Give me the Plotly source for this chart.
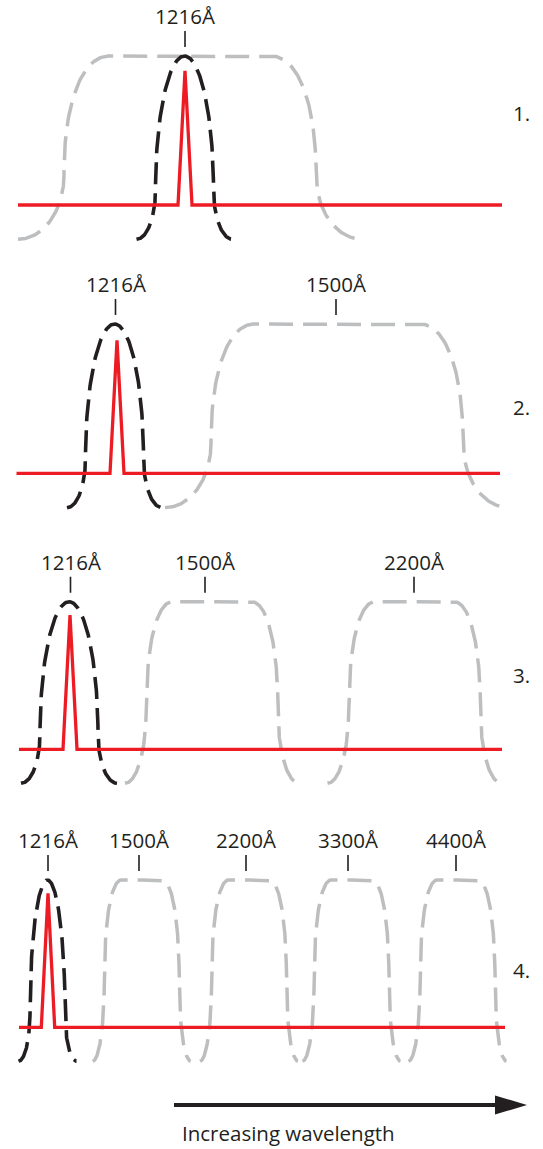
import numpy as np
import plotly.graph_objects as go

# ---------------- data ----------------
panel_names = ["1.", "2.", "3.", "4."]
label_text = [["1216Å"],
              ["1216Å", "1500Å"],
              ["1216Å", "1500Å", "2200Å"],
              ["1216Å", "1500Å", "2200Å", "3300Å", "4400Å"]]
label_pos = [[185], [115.5, 336], [70.5, 205, 414], [48, 139, 246, 348, 456]]

# red emission line (Lyman alpha) on a flat continuum
line_center = [185, 117, 70, 48]
line_peak = [0.90, 0.89, 0.91, 0.91]
line_halfbase = [7, 7, 7, 6.7]
continuum_start = [18, 16.5, 19, 19]
continuum_end = [502, 500, 502, 505]

# narrow Lyα filter (black dashed)
ly_center = [184.5, 114.5, 69, 47.5]
ly_side = [29, 29, 29, 17.5]
ly_foot = [48, 47.5, 48, 29]

# broad-band filters (grey dashed)
bb_center = [[190], [337], [212, 414.5], [141.7, 249, 351.5, 457.5]]
bb_top = [80, 82, 39, 20]
bb_side = [126, 126, 66, 37.5]
bb_foot = [172, 172, 87, 49]
bb_knee = [0.2, 0.2, 0.25, 0.3]

# ---------------- layout constants ----------------
W, H = 543, 1149
RED, BLACK, GREY = "#ED1C24", "#231F20", "#BCBEC0"
FONT = "Open Sans"
base_px = [205, 473.3, 749.3, 1027.3]
unit_px = [149, 149.3, 147.6, 147.3]
number_px = [113, 407, 675, 970]
YLO, YHI = -0.4, 1.35
Y_END = -0.23


def hat(center, d_top, d_side, d_foot, y_knee, p_top=2.2, p_foot=2.0, n=60):
    t1 = np.linspace(np.pi / 2, 0, n)
    a, b = d_side - d_top, 1.0 - y_knee
    d1 = d_top + a * np.abs(np.cos(t1)) ** (2 / p_top)
    y1 = y_knee + b * np.abs(np.sin(t1)) ** (2 / p_top)
    t2 = np.linspace(0, np.pi / 2, n)[1:]
    a2, b2 = d_foot - d_side, y_knee - Y_END
    d2 = d_foot - a2 * np.abs(np.cos(t2)) ** (2 / p_foot)
    y2 = y_knee - b2 * np.abs(np.sin(t2)) ** (2 / p_foot)
    d = np.concatenate([[0.0], d1, d2])
    y = np.concatenate([[1.0], y1, y2])
    x = np.concatenate([center - d[::-1], center + d[1:]])
    yy = np.concatenate([y[::-1], y[1:]])
    return x, yy


fig = go.Figure()
annotations = []
shapes = []
layout_axes = {}

for i in range(4):
    ax = "y" if i == 0 else f"y{i + 1}"
    axname = "yaxis" if i == 0 else f"yaxis{i + 1}"
    B, S = base_px[i], unit_px[i]
    bottom_px = B - YLO * S
    top_px = B - YHI * S
    layout_axes[axname] = dict(domain=[1 - bottom_px / H, 1 - top_px / H],
                               range=[YLO, YHI], visible=False, fixedrange=True,
                               anchor="x")

    # grey broad-band filters
    for c in bb_center[i]:
        x, y = hat(c, bb_top[i], bb_side[i], bb_foot[i], bb_knee[i])
        fig.add_trace(go.Scatter(x=x, y=y, mode="lines", yaxis=ax, hoverinfo="skip",
                                 line=dict(color=GREY, width=3.5, dash="24px,10px"),
                                 showlegend=False))
    # black Lyα filter
    x, y = hat(ly_center[i], 0.0, ly_side[i], ly_foot[i], 0.1, p_top=2.0)
    fig.add_trace(go.Scatter(x=x, y=y, mode="lines", yaxis=ax, hoverinfo="skip",
                             line=dict(color=BLACK, width=3.6, dash="22px,9px"),
                             showlegend=False))
    # red spectrum
    lc, hw = line_center[i], line_halfbase[i]
    rx = [continuum_start[i], lc - hw, lc, lc + hw, continuum_end[i]]
    ry = [0, 0, line_peak[i], 0, 0]
    fig.add_trace(go.Scatter(x=rx, y=ry, mode="lines", yaxis=ax, hoverinfo="skip",
                             line=dict(color=RED, width=3.3), showlegend=False))

    # labels with tick marks
    for txt, lx in zip(label_text[i], label_pos[i]):
        annotations.append(dict(x=lx, y=1 + 40 / S, xref="x", yref=ax, text=txt,
                                showarrow=False, xanchor="center", yanchor="middle",
                                font=dict(family=FONT, size=20.5, color=BLACK)))
        shapes.append(dict(type="line", xref="x", yref=ax, x0=lx, x1=lx,
                           y0=1 + 9 / S, y1=1 + 25 / S,
                           line=dict(color=BLACK, width=1.6)))
    # panel number
    annotations.append(dict(x=521, y=(B - number_px[i]) / S, xref="x", yref=ax,
                            text=panel_names[i], showarrow=False, xanchor="center",
                            yanchor="middle",
                            font=dict(family=FONT, size=20.5, color=BLACK)))

# arrow "Increasing wavelength"
ay = 1 - 1105 / H
shapes.append(dict(type="line", xref="x", yref="paper", x0=174, x1=500, y0=ay, y1=ay,
                   line=dict(color=BLACK, width=4)))
shapes.append(dict(type="path", xref="x", yref="paper",
                   path=f"M 495,{1 - 1095.5 / H} L 527,{ay} L 495,{1 - 1114.5 / H} Z",
                   fillcolor=BLACK, line=dict(color=BLACK, width=0)))
annotations.append(dict(x=180, y=1 - 1133 / H, xref="x", yref="paper",
                        text="Increasing wavelength", showarrow=False,
                        xanchor="left", yanchor="middle",
                        font=dict(family=FONT, size=20.5, color=BLACK)))

fig.update_layout(
    width=W, height=H, autosize=False,
    margin=dict(l=0, r=0, t=0, b=0, pad=0),
    paper_bgcolor="white", plot_bgcolor="rgba(0,0,0,0)",
    xaxis=dict(range=[0, W], domain=[0, 1], visible=False, fixedrange=True),
    annotations=annotations, shapes=shapes, showlegend=False,
    **layout_axes,
)

fig.write_html("out.html", config={"displayModeBar": False, "staticPlot": True},
               post_script="document.body.style.margin='0';")
